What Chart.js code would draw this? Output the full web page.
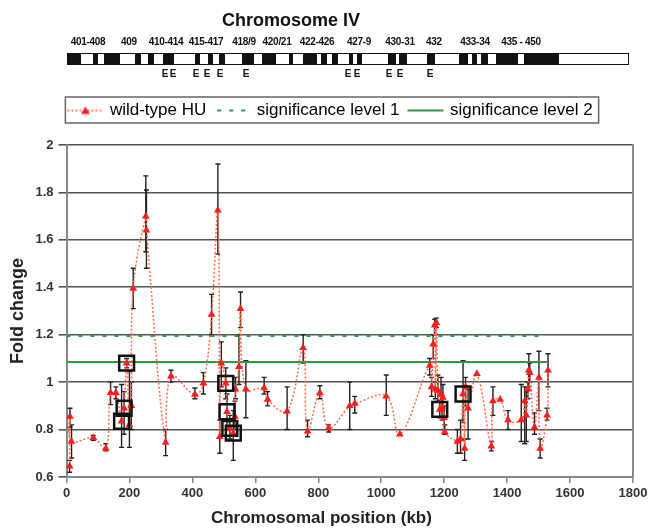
<!DOCTYPE html>
<html>
<head>
<meta charset="utf-8">
<script src="https://cdn.jsdelivr.net/npm/chart.js@4.4.0/dist/chart.umd.min.js"></script>
<style>
html,body{margin:0;padding:0;background:#fff;}
#wrap{position:relative;width:651px;height:529px;overflow:hidden;background:#fff;}
#c{position:absolute;left:0;top:0;}
#hdr{position:absolute;left:0;top:0;width:651px;height:85px;font-family:"Liberation Sans",Arial,sans-serif;color:#111;z-index:2;}
.lbl{position:absolute;white-space:nowrap;transform:translate(-50%,-50%);font-weight:bold;line-height:1;}
#bar{position:absolute;box-sizing:border-box;border:1.5px solid #111;background:#fff;}
.band{position:absolute;top:0;bottom:0;background:#111;}
</style>
</head>
<body>
<div id="wrap">
  <canvas id="c" width="651" height="529"></canvas>
  <div id="hdr"></div>
</div>
<script>
// ---------------- chart data ----------------
const positionKb = [10, 11, 16, 85, 125, 140, 157, 175, 183, 191, 200, 206, 212, 252, 254, 315, 332, 408, 435, 461,
  481, 487, 492, 506, 510, 519, 530, 535, 537, 548, 553, 570, 628, 639, 701, 752, 766, 805, 833, 900,
  916, 1016, 1059, 1154, 1160, 1165, 1170, 1172, 1175, 1180, 1186, 1190, 1193, 1196, 1200, 1202, 1242, 1252, 1260, 1265,
  1268, 1276, 1304, 1350, 1355, 1378, 1403, 1445, 1456, 1461, 1466, 1469, 1472, 1487, 1501, 1505, 1527, 1530];
const foldChange = [0.645, 0.855, 0.75, 0.765, 0.72, 0.955, 0.955, 0.835, 0.89, 1.08, 0.82, 0.90, 1.395, 1.70, 1.64, 0.745, 1.025, 0.948, 0.995, 1.285,
  1.725, 0.77, 1.08, 0.995, 0.875, 0.805, 0.785, 0.855, 0.97, 1.065, 1.31, 0.97, 0.975, 0.927, 0.877, 1.145, 0.793, 0.955, 0.807, 0.90,
  0.91, 0.94, 0.78, 1.07, 0.98, 1.16, 1.24, 0.97, 1.25, 0.965, 0.885, 0.95, 0.89, 0.935, 0.85, 0.79, 0.75, 0.76, 0.95, 0.72,
  0.98, 0.89, 1.035, 0.73, 0.92, 0.927, 0.84, 0.84, 0.92, 0.86, 0.97, 1.05, 1.04, 0.81, 1.02, 0.72, 0.86, 1.05];
const errorLow = [0.62, 0.81, 0.68, 0.755, 0.71, 0.905, 0.93, 0.725, 0.78, 1.06, 0.725, 0.80, 1.31, 1.55, 1.48, 0.69, 1.0, 0.93, 0.95, 1.20,
  1.54, 0.70, 0.98, 0.93, 0.80, 0.76, 0.67, 0.80, 0.93, 0.99, 1.23, 0.85, 0.95, 0.90, 0.80, 1.08, 0.77, 0.93, 0.79, 0.80,
  0.87, 0.86, null, 1.03, 0.94, 1.10, 1.20, 0.93, 1.23, 0.92, 0.85, 0.88, 0.84, 0.89, 0.80, 0.78, 0.70, 0.70, 0.83, 0.67,
  0.90, 0.76, null, 0.71, 0.86, null, 0.80, 0.75, 0.74, 0.75, 0.93, 0.98, 1.0, 0.78, 0.88, 0.68, 0.84, 0.98];
const errorHigh = [0.67, 0.89, 0.82, 0.775, 0.74, 1.0, 0.98, 0.99, 0.96, 1.10, 1.045, 1.0, 1.48, 1.87, 1.81, 0.80, 1.05, 0.975, 1.04, 1.37,
  1.92, 0.84, 1.17, 1.06, 0.95, 0.86, 0.88, 0.92, 1.02, 1.20, 1.38, 1.09, 1.02, 0.96, 0.98, 1.20, 0.84, 0.985, 0.82, 1.0,
  0.94, 1.03, null, 1.10, 1.02, 1.20, 1.265, 1.0, 1.27, 1.03, 0.92, 1.02, 0.94, 0.99, 0.90, 0.82, 0.80, 0.84, 1.09, 0.76,
  1.02, 0.97, null, 0.75, 0.98, null, 0.88, 0.99, 0.98, 0.96, 1.0, 1.12, 1.08, 0.87, 1.13, 0.76, 0.89, 1.12];
const highlightKb = [175, 183, 191, 506, 510, 519, 530, 1186, 1260];
const highlightFold = [0.835, 0.89, 1.08, 0.995, 0.875, 0.805, 0.785, 0.885, 0.95];
const significance1 = 1.195;
const significance2 = 1.085;
const sig1RangeKb = [0, 1515];
const sig2RangeKb = [0, 1530];
const xTicksKb = [0, 200, 400, 600, 800, 1000, 1200, 1400, 1600, 1800];
const yTicks = [0.6, 0.8, 1, 1.2, 1.4, 1.6, 1.8, 2];
const seriesNames = ['wild-type HU', 'significance level 1', 'significance level 2'];

// ---------------- chromosome ideogram (header illustration) ----------------
const cloneLabels = ['401-408', '409', '410-414', '415-417', '418/9', '420/21', '422-426', '427-9', '430-31', '432', '433-34', '435 - 450'];
const cloneLabelX = [88, 129, 166, 206, 244, 277, 317, 359, 400, 434, 475, 521];
const bandStarts = [67, 91.6, 102.8, 134.4, 147.4, 162.2, 193.8, 206.9, 218, 241.4, 260.8, 287.9, 301.7, 320.3, 330.7, 348.1, 355.6, 387.2, 398.3, 426.2, 457.8, 470.8, 480.1, 495, 522.9];
const bandEnds   = [80.4, 97.2, 119.5, 139.9, 153, 173.4, 199.4, 212.4, 223.6, 253.3, 274.9, 292.4, 316.5, 325.8, 337, 351.9, 361.2, 394.6, 405.8, 433.7, 467.1, 476.4, 486.8, 516.6, 558.2];
const eMarkX = [165, 173, 196, 207, 220, 246, 348, 357, 389, 400, 430];

(function buildHeader(){
  const hdr = document.getElementById('hdr');
  const t = document.createElement('div');
  t.className = 'lbl'; t.textContent = 'Chromosome IV';
  t.style.cssText = 'left:291px;top:20px;font-size:18px;';
  hdr.appendChild(t);
  cloneLabels.forEach((s, i) => {
    const d = document.createElement('div');
    d.className = 'lbl'; d.textContent = s;
    d.style.cssText = `left:${cloneLabelX[i]}px;top:42px;font-size:10px;letter-spacing:-0.3px;`;
    hdr.appendChild(d);
  });
  const barL = 67, barR = 629;
  const bar = document.createElement('div');
  bar.id = 'bar';
  bar.style.cssText = `left:${barL}px;top:53px;width:${barR - barL}px;height:12px;`;
  bandStarts.forEach((s, i) => {
    const b = document.createElement('div');
    b.className = 'band';
    b.style.left = (s - barL) + 'px';
    b.style.width = (bandEnds[i] - s) + 'px';
    bar.appendChild(b);
  });
  hdr.appendChild(bar);
  eMarkX.forEach(x => {
    const e = document.createElement('div');
    e.className = 'lbl'; e.textContent = 'E';
    e.style.cssText = `left:${x}px;top:74px;font-size:10px;`;
    hdr.appendChild(e);
  });
})();

// ---------------- legend samples ----------------
const RED_LINE = '#ff6a4c', RED_PT = '#ff1c1c', GREEN = '#2e9a45';
function sample(kind){
  const cv = document.createElement('canvas');
  cv.width = 38; cv.height = 12;
  const g = cv.getContext('2d');
  g.lineWidth = kind === 'solid' ? 2 : 1.6;
  g.beginPath(); g.moveTo(1, 6); g.lineTo(37, 6);
  if (kind === 'red') { g.strokeStyle = RED_LINE; g.setLineDash([2, 2]); }
  else if (kind === 'dash') { g.strokeStyle = GREEN; g.setLineDash([4, 8]); g.lineDashOffset = -3; g.lineWidth = 2; }
  else { g.strokeStyle = GREEN; }
  g.stroke();
  if (kind === 'red') {
    g.setLineDash([]); g.fillStyle = RED_PT;
    g.beginPath(); g.moveTo(19, 2); g.lineTo(23.5, 9.5); g.lineTo(14.5, 9.5); g.closePath(); g.fill();
  }
  return cv;
}
const legendSamples = [sample('red'), sample('dash'), sample('solid')];

// ---------------- plugins ----------------
const errorBars = {
  id: 'errorBars',
  beforeDatasetsDraw(chart) {
    const {ctx, scales: {x, y}} = chart;
    ctx.save();
    ctx.strokeStyle = '#222'; ctx.lineWidth = 1.4;
    positionKb.forEach((kb, i) => {
      if (errorLow[i] == null) return;
      const px = x.getPixelForValue(kb);
      const y1 = y.getPixelForValue(errorLow[i]);
      const y2 = y.getPixelForValue(errorHigh[i]);
      ctx.beginPath();
      ctx.moveTo(px, y1); ctx.lineTo(px, y2);
      ctx.moveTo(px - 2.5, y1); ctx.lineTo(px + 2.5, y1);
      ctx.moveTo(px - 2.5, y2); ctx.lineTo(px + 2.5, y2);
      ctx.stroke();
    });
    ctx.restore();
  }
};
const legendSpacer = {
  id: 'legendSpacer',
  beforeInit(chart) {
    const lg = chart.legend;
    if (!lg) return;
    const orig = lg.fit;
    lg.fit = function(){ orig.call(this); this.height += 16; };
  },
  afterLayout(chart) {
    const lg = chart.legend;
    if (!lg) return;
    lg.left += 4; lg.right += 4;
  }
};
const legendFrame = {
  id: 'legendFrame',
  afterDraw(chart) {
    const lg = chart.legend;
    if (!lg || !lg.legendHitBoxes || !lg.legendHitBoxes.length) return;
    const hb = lg.legendHitBoxes;
    const first = hb[0], last = hb[hb.length - 1];
    const l = first.left - 4, r = last.left + last.width + 6;
    const cy = first.top + first.height / 2;
    const ctx = chart.ctx;
    ctx.save();
    ctx.strokeStyle = '#666'; ctx.lineWidth = 1.5;
    ctx.strokeRect(l, cy - 13.5, r - l, 26);
    ctx.restore();
  }
};

// ---------------- chart ----------------
const FONT = '"Liberation Sans", Arial, sans-serif';
Chart.defaults.font.family = FONT;

const mainPoints = positionKb.map((kb, i) => ({x: kb, y: foldChange[i]}));
const boxPoints = highlightKb.map((kb, i) => ({x: kb, y: highlightFold[i]}));

new Chart(document.getElementById('c'), {
  type: 'line',
  data: {
    datasets: [
      {
        label: 'highlighted', data: boxPoints, showLine: false, order: 1,
        pointStyle: 'rect', pointRadius: 10.5, pointBorderWidth: 2.5,
        pointBorderColor: '#111', pointBackgroundColor: 'rgba(0,0,0,0)'
      },
      {
        label: seriesNames[0], data: mainPoints, order: 2,
        borderColor: RED_LINE, borderWidth: 1.5, borderDash: [2, 2], tension: 0.4,
        pointStyle: 'triangle', pointRadius: 4.5, pointBorderWidth: 0,
        pointBackgroundColor: RED_PT, pointBorderColor: RED_PT
      },
      {
        label: seriesNames[1], data: sig1RangeKb.map(kb => ({x: kb, y: significance1})), order: 3,
        borderColor: GREEN, borderWidth: 2.2, borderDash: [4, 8], pointRadius: 0
      },
      {
        label: seriesNames[2], data: sig2RangeKb.map(kb => ({x: kb, y: significance2})), order: 4,
        borderColor: GREEN, borderWidth: 2, pointRadius: 0
      }
    ]
  },
  options: {
    responsive: false,
    animation: false,
    events: [],
    layout: {padding: {top: 92, left: 3, right: 0, bottom: 0}},
    plugins: {
      tooltip: {enabled: false},
      legend: {
        display: true, position: 'top', align: 'center',
        labels: {
          usePointStyle: true, pointStyleWidth: 32, boxHeight: 12, padding: 10,
          color: '#222', font: {size: 17, family: FONT},
          generateLabels: () => seriesNames.map((n, i) => ({
            text: n, pointStyle: legendSamples[i], fillStyle: 'rgba(0,0,0,0)',
            strokeStyle: 'rgba(0,0,0,0)', lineWidth: 0, hidden: false, datasetIndex: i + 1
          }))
        }
      }
    },
    scales: {
      x: {
        type: 'linear', min: 0, max: 1800,
        afterBuildTicks: s => { s.ticks = xTicksKb.map(v => ({value: v})); },
        ticks: {color: '#333', font: {size: 13, weight: 'bold'}, padding: 3, maxRotation: 0, autoSkip: false,
                callback: v => String(v)},
        grid: {display: true, drawOnChartArea: false, drawTicks: true, tickLength: 6, color: '#888', lineWidth: 1.5},
        border: {display: true, color: '#888', width: 2},
        title: {display: true, text: 'Chromosomal position (kb)' + '\u00a0'.repeat(12), color: '#222',
                font: {size: 17, weight: 'bold'}, padding: {top: 0, bottom: 0}},
        afterFit: s => { s.height = 52; }
      },
      y: {
        type: 'linear', min: 0.6, max: 2,
        afterBuildTicks: s => { s.ticks = yTicks.map(v => ({value: v})); },
        ticks: {color: '#333', font: {size: 13, weight: 'bold'}, padding: 5,
                callback: v => String(Math.round(v * 10) / 10)},
        grid: {color: '#555', lineWidth: 1.6, tickLength: 8, drawTicks: true},
        border: {display: true, color: '#888', width: 2},
        title: {display: true, text: 'Fold change', color: '#222',
                font: {size: 18, weight: 'bold'}, padding: {top: 4, bottom: 0}},
        afterFit: s => { s.width = 63.5; }
      },
      y2: {
        type: 'linear', position: 'right', min: 0.6, max: 2,
        ticks: {display: false},
        grid: {display: false, drawTicks: false},
        border: {display: true, color: '#888', width: 2},
        afterFit: s => { s.width = 18; }
      }
    }
  },
  plugins: [errorBars, legendSpacer, legendFrame]
});
</script>
</body>
</html>
